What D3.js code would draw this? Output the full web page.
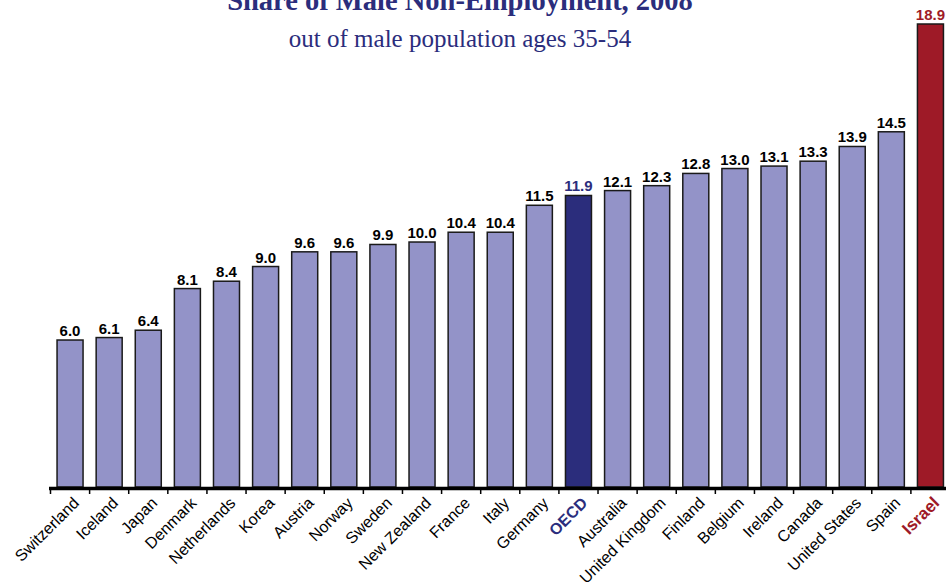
<!DOCTYPE html>
<html><head><meta charset="utf-8">
<script src="https://cdn.jsdelivr.net/npm/d3@7/dist/d3.min.js"></script>
<style>body{margin:0;background:#fff}svg{display:block}</style>
</head><body>
<script>
const countries = ["Switzerland","Iceland","Japan","Denmark","Netherlands","Korea","Austria","Norway","Sweden","New Zealand","France","Italy","Germany","OECD","Australia","United Kingdom","Finland","Belgium","Ireland","Canada","United States","Spain","Israel"];
const values = [6.0,6.1,6.4,8.1,8.4,9.0,9.6,9.6,9.9,10.0,10.4,10.4,11.5,11.9,12.1,12.3,12.8,13.0,13.1,13.3,13.9,14.5,18.9];
const title = "Share of Male Non-Employment, 2008";
const subtitle = "out of male population ages 35-54";

const W = 946, H = 582;
const svg = d3.select("body").append("svg").attr("width", W).attr("height", H);
const baseY = 487;
const x = d3.scaleBand().domain(countries).range([50.5, 950]).paddingInner(0.335).paddingOuter(0.1675);
const y = d3.scaleLinear().domain([0, 18.9]).range([baseY, 24]);

const fill = c => c === "OECD" ? "#2b2d7c" : c === "Israel" ? "#9e1a27" : "#9393c8";
const lblColor = c => c === "OECD" ? "#2b2d7c" : c === "Israel" ? "#9e1a27" : "#000";

svg.append("text").attr("x", 460).attr("y", 10).attr("text-anchor", "middle")
  .attr("font-family", "Liberation Serif, Times New Roman, serif").attr("font-weight", "bold")
  .attr("font-size", 28.5).attr("fill", "#2b2d7c").text(title);
svg.append("text").attr("x", 460).attr("y", 47).attr("text-anchor", "middle")
  .attr("font-family", "Liberation Serif, Times New Roman, serif")
  .attr("font-size", 25).attr("fill", "#2b2d7c").text(subtitle);

const data = countries.map((c, i) => ({c, v: values[i]}));

svg.selectAll("rect.bar").data(data).join("rect").attr("class", "bar")
  .attr("x", d => x(d.c)).attr("width", x.bandwidth())
  .attr("y", d => y(d.v)).attr("height", d => baseY - y(d.v))
  .attr("fill", d => fill(d.c)).attr("stroke", "#1a1a1a").attr("stroke-width", 1.5);

svg.selectAll("text.val").data(data).join("text").attr("class", "val")
  .attr("x", d => x(d.c) + x.bandwidth() / 2).attr("y", d => y(d.v) - 4)
  .attr("text-anchor", "middle").attr("font-family", "Liberation Sans, Arial, sans-serif")
  .attr("font-weight", "bold").attr("font-size", 15)
  .attr("fill", d => lblColor(d.c)).text(d => d.v.toFixed(1));

// axis
const step = x.step();
const ticks = d3.range(countries.length + 1).map(i => 50.5 + i * step);
svg.append("line").attr("x1", 49).attr("x2", 954).attr("y1", baseY + 1.5).attr("y2", baseY + 1.5)
  .attr("stroke", "#000").attr("stroke-width", 3.5);
svg.selectAll("line.tick").data(ticks).join("line").attr("class", "tick")
  .attr("x1", d => d).attr("x2", d => d).attr("y1", baseY).attr("y2", baseY + 7)
  .attr("stroke", "#000").attr("stroke-width", 1.5);

svg.selectAll("text.cat").data(data).join("text").attr("class", "cat")
  .attr("transform", d => `translate(${x(d.c) + x.bandwidth() / 2 + 10},${baseY + 17}) rotate(-45)`)
  .attr("text-anchor", "end").attr("font-family", "Liberation Sans, Arial, sans-serif")
  .attr("font-size", d => d.c === "Israel" ? 17 : 16)
  .attr("font-weight", d => (d.c === "OECD" || d.c === "Israel") ? "bold" : "normal")
  .attr("fill", d => lblColor(d.c)).text(d => d.c);
</script>
</body></html>
